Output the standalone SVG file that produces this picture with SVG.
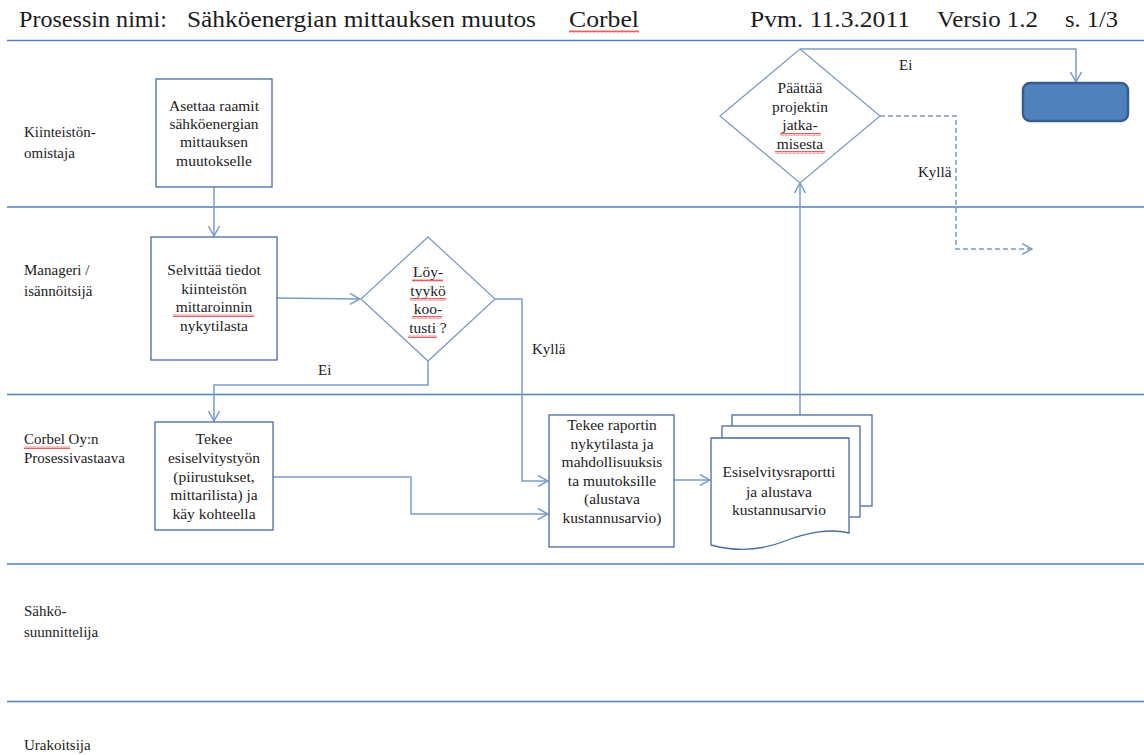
<svg xmlns="http://www.w3.org/2000/svg" width="1144" height="755" viewBox="0 0 1144 755">
  <style>
    text { font-family: "Liberation Serif", "DejaVu Serif", serif; fill: #1c1c1c; }
    .hdr { font-size: 23px; }
    .lane { font-size: 15px; }
    .node { font-size: 15.5px; text-anchor: middle; }
    .lbl { font-size: 15px; }
    .sep { stroke: #4f81bd; stroke-width: 1.5; fill: none; }
    .box { fill: #ffffff; stroke: #4a6b9e; stroke-width: 1.3; }
    .dia { fill: #ffffff; stroke: #7f9cc8; stroke-width: 1.3; }
    .doc { fill: #ffffff; stroke: #4a6b9e; stroke-width: 1.3; }
    .term { fill: #4f81bd; stroke: #385d8a; stroke-width: 2.5; }
    .conn { fill: none; stroke: #7b9dcc; stroke-width: 1.5; marker-end: url(#arrow); }
    .dash { stroke-dasharray: 5 3; }
    .squig { fill: url(#wavy); }
  </style>
  <defs>
    <marker id="arrow" viewBox="0 0 12 12" refX="11" refY="6" markerWidth="12" markerHeight="12" markerUnits="userSpaceOnUse" orient="auto">
      <path d="M1,0.5 L11,6 L1,11.5" fill="none" stroke="#7b9dcc" stroke-width="1.5"/>
    </marker>
    <pattern id="wavy" width="4" height="3" patternUnits="userSpaceOnUse">
      <path d="M0,2.5 L1,0.5 L2,2.5 L3,0.5 L4,2.5" fill="none" stroke="#e03a3a" stroke-width="0.8"/>
    </pattern>
  </defs>

  <!-- header -->
  <g id="header">
    <text class="hdr" x="19" y="27" textLength="148" lengthAdjust="spacingAndGlyphs">Prosessin nimi:</text>
    <text class="hdr" x="187" y="27" textLength="349" lengthAdjust="spacingAndGlyphs">Sähköenergian mittauksen muutos</text>
    <text class="hdr" x="569" y="27" textLength="70" lengthAdjust="spacingAndGlyphs">Corbel</text>
    <rect class="squig" x="569" y="30" width="70" height="3"/>
    <text class="hdr" x="750" y="27" textLength="160" lengthAdjust="spacingAndGlyphs">Pvm. 11.3.2011</text>
    <text class="hdr" x="937" y="27" textLength="101" lengthAdjust="spacingAndGlyphs">Versio 1.2</text>
    <text class="hdr" x="1065" y="27" textLength="53" lengthAdjust="spacingAndGlyphs">s. 1/3</text>
  </g>

  <!-- swimlane separators -->
  <g id="lanes">
    <line class="sep" x1="7" y1="40.5" x2="1144" y2="40.5"/>
    <line class="sep" x1="7" y1="207" x2="1144" y2="207"/>
    <line class="sep" x1="7" y1="394.5" x2="1144" y2="394.5"/>
    <line class="sep" x1="7" y1="564" x2="1144" y2="564"/>
    <line class="sep" x1="7" y1="701.5" x2="1144" y2="701.5"/>
  </g>

  <!-- lane titles -->
  <g id="lane-labels">
    <text class="lane" x="24" y="137">Kiinteistön-</text>
    <text class="lane" x="24" y="158">omistaja</text>
    <text class="lane" x="24" y="275">Manageri /</text>
    <text class="lane" x="24" y="296">isännöitsijä</text>
    <text class="lane" x="24" y="444">Corbel Oy:n</text>
    <rect class="squig" x="24" y="446" width="46" height="3"/>
    <text class="lane" x="24" y="463">Prosessivastaava</text>
    <text class="lane" x="24" y="616">Sähkö-</text>
    <text class="lane" x="24" y="637">suunnittelija</text>
    <text class="lane" x="24" y="750">Urakoitsija</text>
  </g>

  <!-- connectors -->
  <g id="connectors">
    <path class="conn" d="M214,187 V236"/>
    <path class="conn" d="M277,298 L360,299"/>
    <path class="conn" d="M428,361 V385 H214 V421"/>
    <path class="conn" d="M495,299 H522 V481 H548"/>
    <path class="conn" d="M273,477 H411 V514 H548"/>
    <path class="conn" d="M674,480 H710"/>
    <path class="conn" d="M800,415 V183"/>
    <path class="conn" d="M800,49 H1076 V82"/>
    <path class="conn dash" d="M880,116 H956 V249 H1032"/>
    <text class="lbl" x="318" y="375">Ei</text>
    <text class="lbl" x="532" y="354">Kyllä</text>
    <text class="lbl" x="899" y="70">Ei</text>
    <text class="lbl" x="918" y="177">Kyllä</text>
  </g>

  <!-- nodes -->
  <g id="n-raamit">
    <rect class="box" x="156" y="79" width="116" height="108"/>
    <text class="node" x="214" y="110.5">Asettaa raamit</text>
    <text class="node" x="214" y="128.5">sähköenergian</text>
    <text class="node" x="214" y="147">mittauksen</text>
    <text class="node" x="214" y="165.5">muutokselle</text>
  </g>

  <g id="n-selvittaa">
    <rect class="box" x="151" y="237" width="126" height="123"/>
    <text class="node" x="214" y="275">Selvittää tiedot</text>
    <text class="node" x="214" y="293.5">kiinteistön</text>
    <text class="node" x="214" y="312">mittaroinnin</text>
    <rect class="squig" x="173" y="314" width="81" height="3"/>
    <text class="node" x="214" y="330.5">nykytilasta</text>
  </g>

  <g id="n-loytyyko">
    <polygon class="dia" points="428,237 495,299 428,361 361,299"/>
    <text class="node" x="428" y="276.5">Löy-</text>
    <rect class="squig" x="412" y="279" width="31" height="3"/>
    <text class="node" x="428" y="295.5">tyykö</text>
    <rect class="squig" x="410" y="298" width="36" height="3"/>
    <text class="node" x="428" y="314">koo-</text>
    <rect class="squig" x="412" y="316" width="30" height="3"/>
    <text class="node" x="428" y="332.5">tusti ?</text>
    <rect class="squig" x="408" y="335" width="29" height="3"/>
  </g>

  <g id="n-esiselvitys">
    <rect class="box" x="155" y="422" width="118" height="108"/>
    <text class="node" x="214" y="444">Tekee</text>
    <text class="node" x="214" y="462.5">esiselvitystyön</text>
    <text class="node" x="214" y="481.5">(piirustukset,</text>
    <text class="node" x="214" y="500">mittarilista) ja</text>
    <text class="node" x="214" y="518.5">käy kohteella</text>
  </g>

  <g id="n-raportti">
    <rect class="box" x="549" y="415" width="125" height="132"/>
    <text class="node" x="612" y="429.5">Tekee raportin</text>
    <text class="node" x="612" y="448.5">nykytilasta ja</text>
    <text class="node" x="612" y="467">mahdollisuuksis</text>
    <text class="node" x="612" y="485.5">ta muutoksille</text>
    <text class="node" x="612" y="504">(alustava</text>
    <text class="node" x="612" y="523">kustannusarvio)</text>
  </g>

  <g id="n-dokumentit">
    <rect class="doc" x="732" y="415" width="140" height="91"/>
    <rect class="doc" x="722" y="426" width="138" height="91"/>
    <path class="doc" d="M711,438 H849 V533 C830,528 805,533 785,541 C765,549 740,553 711,545 Z"/>
    <text class="node" x="779" y="477">Esiselvitysraportti</text>
    <text class="node" x="779" y="496.5">ja alustava</text>
    <text class="node" x="779" y="515">kustannusarvio</text>
  </g>

  <g id="n-paattaa">
    <polygon class="dia" points="800,49 880,116 800,183 720,116"/>
    <text class="node" x="800" y="92.5">Päättää</text>
    <text class="node" x="800" y="111.5">projektin</text>
    <text class="node" x="800" y="130">jatka-</text>
    <rect class="squig" x="780" y="133" width="41" height="3"/>
    <text class="node" x="800" y="149">misesta</text>
    <rect class="squig" x="775" y="151" width="50" height="3"/>
  </g>

  <g id="n-loppu">
    <rect class="term" x="1023" y="83" width="105" height="38" rx="7" ry="7"/>
  </g>
</svg>
